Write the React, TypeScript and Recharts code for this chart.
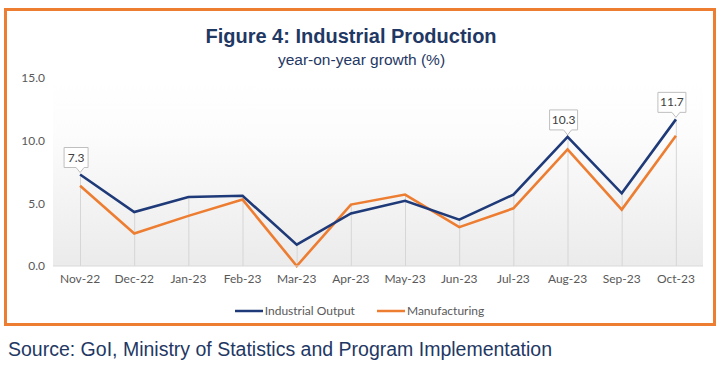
import {
  ComposedChart, Line, Bar, XAxis, YAxis, CartesianGrid, Legend, LabelList,
} from 'recharts'

const months = ['Nov-22', 'Dec-22', 'Jan-23', 'Feb-23', 'Mar-23', 'Apr-23', 'May-23', 'Jun-23', 'Jul-23', 'Aug-23', 'Sep-23', 'Oct-23']
const industrialOutput = [7.3, 4.3, 5.5, 5.6, 1.7, 4.2, 5.2, 3.7, 5.7, 10.3, 5.8, 11.7]
const manufacturing = [6.4, 2.6, 4.0, 5.3, 0.0, 4.9, 5.7, 3.1, 4.6, 9.3, 4.5, 10.4]
const yTicks = [0, 5, 10, 15]
const calloutIdx = [0, 9, 11]

const NAVY = '#1F3A78'
const ORANGE = '#ED7D31'
const TEXT = '#1F3864'
const TICK = { fill: '#595959', fontSize: 12, fontFamily: 'Lato' }

const data = months.map((m, i) => ({
  month: m,
  io: industrialOutput[i],
  mfg: manufacturing[i],
  drop: Math.max(industrialOutput[i], manufacturing[i]),
}))

function Callout(props: any) {
  const { x, y, value, index } = props
  if (!calloutIdx.includes(index)) return null
  const label = Number(value).toFixed(1)
  const w = label.length > 3 ? 28 : 24
  const h = 20
  const bx = x - w / 2 - 4
  const by = y - 7 - h
  return (
    <g>
      <path
        d={`M${bx},${by} h${w} v${h} h${-(w / 2 - 8)} L${x},${y - 2} L${x - 4},${by + h} H${bx} Z`}
        fill="#fff"
        stroke="#bfbfbf"
        strokeWidth={1}
      />
      <text x={bx + w / 2} y={by + h / 2 + 4} textAnchor="middle" fontSize={12} fontFamily="Lato" fill="#404040">
        {label}
      </text>
    </g>
  )
}

function LegendBox() {
  const items = [
    { name: 'Industrial Output', color: NAVY },
    { name: 'Manufacturing', color: ORANGE },
  ]
  return (
    <div style={{
      display: 'flex', justifyContent: 'center', gap: 22, paddingLeft: 16, paddingTop: 7,
      fontFamily: 'Lato', fontSize: 12, color: '#595959',
    }}>
      {items.map(it => (
        <div key={it.name} style={{ display: 'flex', alignItems: 'center', gap: 2 }}>
          <svg width={28} height={10}>
            <line x1={0} y1={5} x2={28} y2={5} stroke={it.color} strokeWidth={2.5} />
          </svg>
          <span>{it.name}</span>
        </div>
      ))}
    </div>
  )
}

export default function App() {
  return (
    <div style={{ position: 'relative', width: 722, height: 368, background: '#fff', fontFamily: 'Liberation Sans, Arial, sans-serif' }}>
      <style>{'body{margin:0}'}</style>
      <div style={{
        position: 'absolute', left: 4, top: 8, width: 712, height: 318,
        border: `3px solid ${ORANGE}`, boxSizing: 'border-box',
      }} />
      <div style={{ position: 'absolute', left: 0, top: 25, width: 702, textAlign: 'center', fontSize: 20, fontWeight: 700, color: TEXT }}>
        Figure 4: Industrial Production
      </div>
      <div style={{ position: 'absolute', left: 0, top: 51, width: 723, textAlign: 'center', fontSize: 15.5, color: TEXT }}>
        year-on-year growth (%)
      </div>
      <div style={{ position: 'absolute', left: 0, top: 0 }}>
        <ComposedChart width={722} height={368} data={data} margin={{ top: 78, right: 19, left: 0, bottom: 48 }}>
          <defs>
            <linearGradient id="plotBg" x1="0" y1="0" x2="0" y2="1">
              <stop offset="0" stopColor="#ffffff" />
              <stop offset="0.3" stopColor="#fcfcfc" />
              <stop offset="1" stopColor="#ebebeb" />
            </linearGradient>
          </defs>
          <CartesianGrid horizontal={false} vertical={false} fill="url(#plotBg)" />
          <XAxis
            dataKey="month"
            height={30}
            tick={TICK}
            axisLine={{ stroke: '#d9d9d9' }}
            tickLine={false}
            interval={0}
          />
          <YAxis
            width={53}
            domain={[0, 15]}
            ticks={yTicks}
            tick={TICK}
            axisLine={false}
            tickLine={false}
            tickFormatter={v => Number(v).toFixed(1)}
          />
          <Legend verticalAlign="bottom" height={24} content={() => <LegendBox />} />
          <Bar dataKey="drop" barSize={1} fill="#d6d6d6" isAnimationActive={false} legendType="none" />
          <Line
            dataKey="mfg"
            name="Manufacturing"
            stroke={ORANGE}
            strokeWidth={2.6}
            dot={false}
            activeDot={false}
            type="linear"
            isAnimationActive={false}
          />
          <Line
            dataKey="io"
            name="Industrial Output"
            stroke={NAVY}
            strokeWidth={2.6}
            dot={false}
            activeDot={false}
            type="linear"
            isAnimationActive={false}
          >
            <LabelList dataKey="io" content={Callout} />
          </Line>
        </ComposedChart>
      </div>
      <div style={{ position: 'absolute', left: 8, top: 338, fontSize: 19.5, color: TEXT, whiteSpace: 'nowrap' }}>
        Source: GoI, Ministry of Statistics and Program Implementation
      </div>
    </div>
  )
}
